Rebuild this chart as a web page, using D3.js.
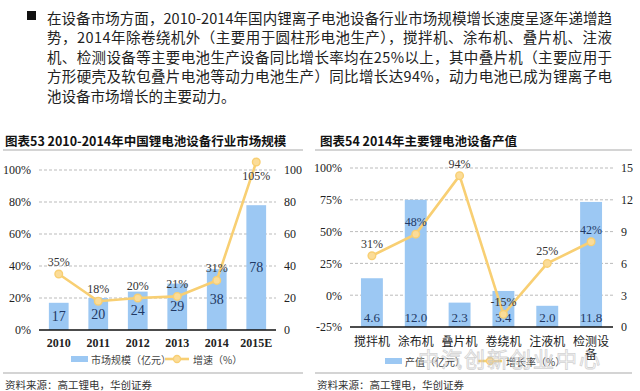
<!DOCTYPE html>
<html><head><meta charset="utf-8">
<script src="https://cdn.jsdelivr.net/npm/d3@7"></script>
<style>body{margin:0;background:#fff}svg{display:block}</style>
</head><body>
<svg id="c" width="640" height="391"></svg>
<script>
// ---- data ----
const paragraph = [
  "在设备市场方面，2010-2014年国内锂离子电池设备行业市场规模增长速度呈逐年递增趋",
  "势，2014年除卷绕机外（主要用于圆柱形电池生产），搅拌机、涂布机、叠片机、注液",
  "机、检测设备等主要电池生产设备同比增长率均在25%以上，其中叠片机（主要应用于",
  "方形硬壳及软包叠片电池等动力电池生产）同比增长达94%，动力电池已成为锂离子电",
  "池设备市场增长的主要动力。"
];
const title1 = "图表53 2010-2014年中国锂电池设备行业市场规模";
const years = ["2010","2011","2012","2013","2014","2015E"];
const marketSize = [17,20,24,29,38,78];
const growth1 = [35,18,20,21,31,105];
const leftTicks1 = [0,20,40,60,80,100];
const rightTicks1 = [0,20,40,60,80,100];
const legend1 = ["市场规模（亿元）","增速（%）"];

const title2 = "图表54 2014年主要锂电池设备产值";
const equipment = ["搅拌机","涂布机","叠片机","卷绕机","注液机","检测设备"];
const output = [4.6,12.0,2.3,3.4,2.0,11.8];
const growth2 = [31,48,94,-15,25,42];
const leftTicks2 = [-25,0,25,50,75,100];
const rightTicks2 = [0,3,6,9,12,15];
const legend2 = ["产值（亿元）","增长率（%）"];
const source = "资料来源：高工锂电，华创证券";
const watermark = "中汽创新创业中心";

// ---- style ----
const CJK = "'Noto Sans CJK SC', sans-serif";
const SERIF = "'Liberation Serif','Times New Roman', serif";
const barColor = "#9cc8f3", lineColor = "#f8cf73", markFill = "#fbdc98";
const navy = "#1f3864", txt = "#333";

const svg = d3.select("#c");

// paragraph
svg.append("rect").attr("x",27).attr("y",11).attr("width",9).attr("height",9).attr("fill","#111");
paragraph.forEach((t,i)=>{
  const el = svg.append("text").attr("x",47).attr("y",17+i*19.6)
    .attr("dominant-baseline","central").attr("font-family",CJK).attr("font-size",14.5)
    .attr("fill","#222").text(t);
  if(i<4) el.attr("textLength",565).attr("lengthAdjust","spacing");
});

function chart(o){
  const g = svg.append("g");
  // title
  g.append("text").attr("x",o.tx).attr("y",140).attr("dominant-baseline","central")
    .attr("font-family",CJK).attr("font-weight","bold").attr("font-size",12.5).attr("fill","#111").text(o.title);
  g.append("line").attr("x1",o.rx0).attr("x2",o.rx1).attr("y1",150).attr("y2",150).attr("stroke","#aaa").attr("stroke-width",1.2);
  g.append("line").attr("x1",o.rx0).attr("x2",o.rx1).attr("y1",373).attr("y2",373).attr("stroke","#aaa").attr("stroke-width",1.2);
  g.append("text").attr("x",o.rx0+2).attr("y",384).attr("dominant-baseline","central")
    .attr("font-family",CJK).attr("font-size",10.5).attr("fill","#333").text(source);

  const x = d3.scaleBand().domain(o.cats).range([o.x0,o.x1]).paddingInner(o.pad).paddingOuter(o.pad/2);
  const yL = d3.scaleLinear().domain(o.lDom).range([o.y0,o.y1]);
  const yR = d3.scaleLinear().domain(o.rDom).range([o.y0,o.y1]);

  // grid
  g.selectAll(".grid").data(o.lTicks.slice(1)).join("line")
    .attr("x1",o.x0).attr("x2",o.x1).attr("y1",d=>yL(d)).attr("y2",d=>yL(d))
    .attr("stroke","#aaa").attr("stroke-dasharray","3,2").attr("stroke-width",0.8);
  // left axis labels
  const axL = g.append("g").attr("transform",`translate(${o.x0-8},0)`)
    .call(d3.axisLeft(yL).tickValues(o.lTicks).tickFormat(d=>d+"%").tickSize(0).tickPadding(0));
  axL.select(".domain").remove();
  axL.selectAll("text").attr("font-family",SERIF).attr("font-size",12).attr("fill","#222");
  const axR = g.append("g").attr("transform",`translate(${o.x1+8},0)`)
    .call(d3.axisRight(yR).tickValues(o.rTicks).tickSize(0).tickPadding(0));
  axR.select(".domain").remove();
  axR.selectAll("text").attr("font-family",SERIF).attr("font-size",12).attr("fill","#222");

  // bars
  g.selectAll(".bar").data(o.bars).join("rect")
    .attr("x",(d,i)=>x(o.cats[i])).attr("width",x.bandwidth())
    .attr("y",d=>yR(d)).attr("height",d=>o.y0-yR(d)).attr("fill",barColor);
  g.selectAll(".bl").data(o.bars).join("text")
    .attr("x",(d,i)=>x(o.cats[i])+x.bandwidth()/2)
    .attr("y",d=>o.barLabelMid ? (yR(d)+o.y0)/2 : o.y0-10)
    .attr("text-anchor","middle").attr("dominant-baseline","central")
    .attr("font-family",SERIF).attr("font-size",o.barFont).attr("fill",navy)
    .text(d=>o.barFmt(d));
  // x axis line
  g.append("line").attr("x1",o.x0).attr("x2",o.x1).attr("y1",o.y0).attr("y2",o.y0).attr("stroke","#111").attr("stroke-width",1.3);

  // line
  const line = d3.line().x((d,i)=>x(o.cats[i])+x.bandwidth()/2).y(d=>yL(d));
  g.append("path").datum(o.line).attr("d",line).attr("fill","none").attr("stroke",lineColor).attr("stroke-width",2.6);
  g.selectAll(".pt").data(o.line).join("circle")
    .attr("cx",(d,i)=>x(o.cats[i])+x.bandwidth()/2).attr("cy",d=>yL(d)).attr("r",3.8)
    .attr("fill",markFill).attr("stroke",lineColor).attr("stroke-width",1.4);
  g.selectAll(".ll").data(o.line).join("text")
    .attr("x",(d,i)=>x(o.cats[i])+x.bandwidth()/2)
    .attr("y",(d,i)=>yL(d)+(d>o.lDom[1]?14:-12))
    .attr("text-anchor","middle").attr("dominant-baseline","central")
    .attr("font-family",SERIF).attr("font-size",12).attr("fill",(d,i)=>o.lineLabelColor(i))
    .text(d=>d+"%");

  // x labels
  o.cats.forEach((c,i)=>{
    const cx = x(c)+x.bandwidth()/2;
    const parts = o.wrap(c);
    parts.forEach((p,j)=>{
      g.append("text").attr("x",cx).attr("y",o.y0+13+j*13).attr("text-anchor","middle")
        .attr("dominant-baseline","central")
        .attr("font-family",o.catFont).attr("font-weight",o.catWeight).attr("font-size",o.catSize).attr("fill","#222").text(p);
    });
  });

  // legend
  const ly = o.legY;
  g.append("rect").attr("x",o.legX).attr("y",ly-3).attr("width",17).attr("height",6).attr("fill",barColor);
  const t1 = g.append("text").attr("x",o.legX+20).attr("y",ly).attr("dominant-baseline","central")
    .attr("font-family",CJK).attr("font-size",10).attr("fill","#444").text(o.legend[0]);
  const lx = o.legX + o.legGap;
  g.append("line").attr("x1",lx).attr("x2",lx+24).attr("y1",ly).attr("y2",ly).attr("stroke",lineColor).attr("stroke-width",2.6);
  g.append("circle").attr("cx",lx+12).attr("cy",ly).attr("r",3.5).attr("fill",markFill).attr("stroke",lineColor).attr("stroke-width",1.3);
  g.append("text").attr("x",lx+28).attr("y",ly).attr("dominant-baseline","central")
    .attr("font-family",CJK).attr("font-size",10).attr("fill","#444").text(o.legend[1]);
}

chart({
  title:title1, tx:5, rx0:3, rx1:303,
  cats:years, bars:marketSize, line:growth1,
  x0:39, x1:276, y0:330, y1:170, pad:0.5,
  lDom:[0,100], rDom:[0,100], lTicks:leftTicks1, rTicks:rightTicks1,
  barLabelMid:true, barFont:14, barFmt:d=>d,
  lineLabelColor:()=>"#333",
  wrap:c=>[c], catFont:SERIF, catWeight:"bold", catSize:12,
  legend:legend1, legX:71, legY:359, legGap:94
});
chart({
  title:title2, tx:320, rx0:315, rx1:632,
  cats:equipment, bars:output, line:growth2,
  x0:350, x1:613, y0:327, y1:168, pad:0.5,
  lDom:[-25,100], rDom:[0,15], lTicks:leftTicks2, rTicks:rightTicks2,
  barLabelMid:false, barFont:13, barFmt:d=>d.toFixed(1),
  lineLabelColor:i=>(i===1||i===5)?navy:"#333",
  wrap:c=>c.length>3?[c.slice(0,3),c.slice(3)]:[c], catFont:CJK, catWeight:"normal", catSize:12,
  legend:legend2, legX:385, legY:361, legGap:93
});

// watermark
svg.append("text").attr("x",418).attr("y",358).attr("dominant-baseline","central")
  .attr("font-family",CJK).attr("font-size",21).attr("fill","none").attr("stroke","#c8c8c8")
  .attr("stroke-width",0.8).attr("opacity",0.8).attr("letter-spacing",2).text(watermark);
</script>
</body></html>
